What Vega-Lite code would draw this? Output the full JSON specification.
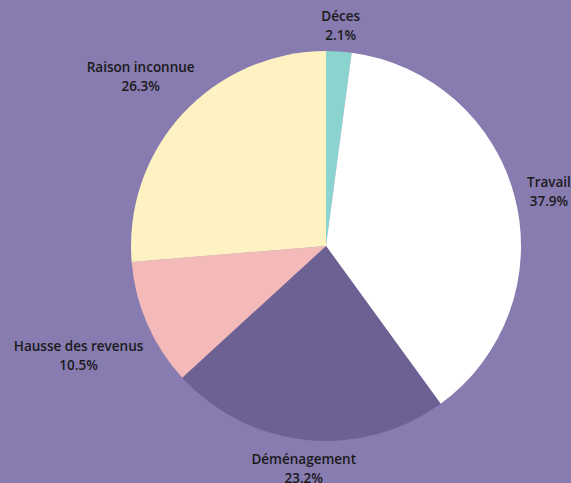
{
  "$schema": "https://vega.github.io/schema/vega-lite/v6.json",
  "width": 490,
  "height": 474,
  "autosize": {"type": "none"},
  "padding": {"left": 81, "top": 9, "right": 0, "bottom": 0},
  "background": "#877bb0",
  "view": {"stroke": null},
  "data": {
    "values": [
      {"raison": "Déces", "pct": 2.1, "rang": 1},
      {"raison": "Travail", "pct": 37.9, "rang": 2},
      {"raison": "Déménagement", "pct": 23.2, "rang": 3},
      {"raison": "Hausse des revenus", "pct": 10.5, "rang": 4},
      {"raison": "Raison inconnue", "pct": 26.3, "rang": 5}
    ]
  },
  "transform": [
    {"calculate": "datum.raison + '\\n' + format(datum.pct, '.1f') + '%'", "as": "label"}
  ],
  "encoding": {
    "theta": {"field": "pct", "type": "quantitative", "stack": true},
    "order": {"field": "rang", "type": "quantitative"}
  },
  "layer": [
    {
      "mark": {"type": "arc", "outerRadius": 195, "strokeWidth": 0},
      "encoding": {
        "color": {
          "field": "raison",
          "type": "nominal",
          "scale": {
            "domain": ["Déces", "Travail", "Déménagement", "Hausse des revenus", "Raison inconnue"],
            "range": ["#8ad3cf", "#ffffff", "#6d6194", "#f4b9b9", "#fff2c2"]
          },
          "legend": null
        }
      }
    },
    {
      "mark": {"type": "text", "radius": 222, "font": "Open Sans", "fontSize": 13.5, "fontWeight": 600, "color": "#1a1a1a", "lineHeight": 19, "align": "center", "baseline": "middle", "lineBreak": "\n", "dy": -7},
      "encoding": {
        "text": {"condition": {"test": "datum.raison === 'Déces' || datum.raison === 'Déménagement'", "field": "label"}, "value": ""}
      }
    },
    {
      "mark": {"type": "text", "radius": 230, "font": "Open Sans", "fontSize": 13.5, "fontWeight": 600, "color": "#1a1a1a", "lineHeight": 19, "align": "center", "baseline": "middle", "lineBreak": "\n", "dy": -7},
      "encoding": {
        "text": {"condition": {"test": "datum.raison === 'Travail'", "field": "label"}, "value": ""}
      }
    },
    {
      "mark": {"type": "text", "radius": 270, "font": "Open Sans", "fontSize": 13.5, "fontWeight": 600, "color": "#1a1a1a", "lineHeight": 19, "align": "center", "baseline": "middle", "lineBreak": "\n", "dy": -7},
      "encoding": {
        "text": {"condition": {"test": "datum.raison === 'Hausse des revenus'", "field": "label"}, "value": ""}
      }
    },
    {
      "mark": {"type": "text", "radius": 252, "font": "Open Sans", "fontSize": 13.5, "fontWeight": 600, "color": "#1a1a1a", "lineHeight": 19, "align": "center", "baseline": "middle", "lineBreak": "\n", "dy": -7},
      "encoding": {
        "text": {"condition": {"test": "datum.raison === 'Raison inconnue'", "field": "label"}, "value": ""}
      }
    }
  ]
}
